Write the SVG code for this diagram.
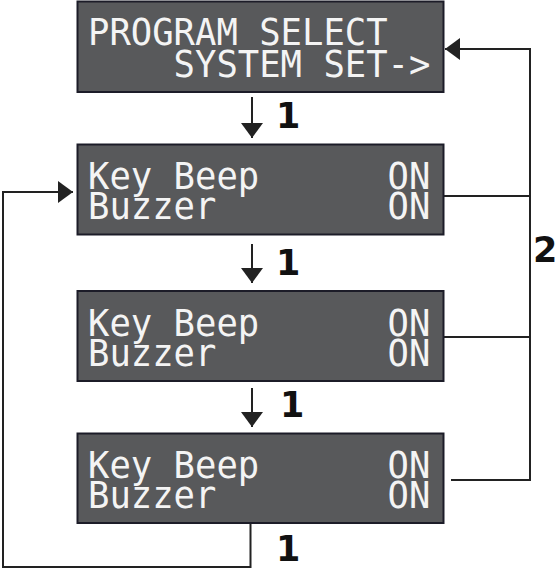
<svg xmlns="http://www.w3.org/2000/svg" width="557" height="570" viewBox="0 0 557 570">
<style>
.lcd{fill:#58595b;stroke:#1c1c28;stroke-width:2}
.t{font-family:"DejaVu Sans Mono","Liberation Mono",monospace;font-size:37px;fill:#f4f4f4}
.c{fill:none;stroke:#222;stroke-width:2}
.lbl{font-family:"DejaVu Sans","Liberation Sans",sans-serif;font-weight:bold;font-size:35px;fill:#111}
</style>
<defs>
<marker id="ah" viewBox="0 0 15 22" refX="15" refY="11" markerWidth="15" markerHeight="22" markerUnits="userSpaceOnUse" orient="auto">
<path d="M0,0 L15,11 L0,22 Z" fill="#222"/>
</marker>
</defs>
<rect width="557" height="570" fill="#fff"/>
<g id="connectors">
<line class="c" x1="252" y1="97" x2="252" y2="138" marker-end="url(#ah)"/>
<line class="c" x1="252" y1="244" x2="252" y2="283" marker-end="url(#ah)"/>
<line class="c" x1="252" y1="388" x2="252" y2="427" marker-end="url(#ah)"/>
<polyline class="c" points="444,196 530,196"/>
<polyline class="c" points="444,337 530,337"/>
<polyline class="c" points="451,480 530,480 530,49 445,49" marker-end="url(#ah)"/>
<polyline class="c" points="250.5,523 250.5,567 3,567 3,192 73,192" marker-end="url(#ah)"/>
<text class="lbl" x="276" y="128">1</text>
<text class="lbl" x="276" y="275">1</text>
<text class="lbl" x="280" y="417">1</text>
<text class="lbl" x="276" y="561">1</text>
<text class="lbl" x="533" y="262">2</text>
</g>
<g id="node1">
<rect class="lcd" x="77.5" y="1.5" width="366" height="90.5"/>
<text class="t" x="88" y="45" textLength="299.6" lengthAdjust="spacingAndGlyphs">PROGRAM SELECT</text>
<text class="t" x="173.6" y="77" textLength="256.8" lengthAdjust="spacingAndGlyphs">SYSTEM SET-&gt;</text>
</g>
<g id="node2">
<rect class="lcd" x="77.5" y="144.5" width="366" height="90"/>
<text class="t" x="88" y="189" textLength="171.2" lengthAdjust="spacingAndGlyphs">Key Beep</text>
<text class="t" x="387.6" y="189" textLength="42.8" lengthAdjust="spacingAndGlyphs">ON</text>
<text class="t" x="88" y="219" textLength="128.4" lengthAdjust="spacingAndGlyphs">Buzzer</text>
<text class="t" x="387.6" y="219" textLength="42.8" lengthAdjust="spacingAndGlyphs">ON</text>
</g>
<g id="node3">
<rect class="lcd" x="77.5" y="291" width="366" height="90"/>
<text class="t" x="88" y="335.5" textLength="171.2" lengthAdjust="spacingAndGlyphs">Key Beep</text>
<text class="t" x="387.6" y="335.5" textLength="42.8" lengthAdjust="spacingAndGlyphs">ON</text>
<text class="t" x="88" y="365.5" textLength="128.4" lengthAdjust="spacingAndGlyphs">Buzzer</text>
<text class="t" x="387.6" y="365.5" textLength="42.8" lengthAdjust="spacingAndGlyphs">ON</text>
</g>
<g id="node4">
<rect class="lcd" x="77.5" y="433.5" width="366" height="89.5"/>
<text class="t" x="88" y="478" textLength="171.2" lengthAdjust="spacingAndGlyphs">Key Beep</text>
<text class="t" x="387.6" y="478" textLength="42.8" lengthAdjust="spacingAndGlyphs">ON</text>
<text class="t" x="88" y="508" textLength="128.4" lengthAdjust="spacingAndGlyphs">Buzzer</text>
<text class="t" x="387.6" y="508" textLength="42.8" lengthAdjust="spacingAndGlyphs">ON</text>
</g>
</svg>
